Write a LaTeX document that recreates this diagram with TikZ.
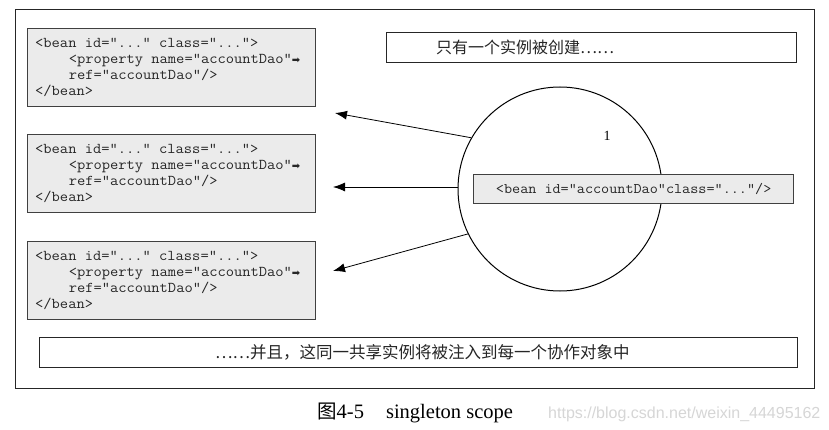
\documentclass[tikz,border=0pt]{standalone}
\usepackage{fontspec}
\setmainfont{Liberation Serif}
\newfontfamily\codefont{Latin Modern Mono}[FakeStretch=1.07]
\newfontfamily\cjk{Noto Sans CJK SC}
\newfontfamily\dejavu{DejaVu Sans}
\newfontfamily\wmfont{Liberation Sans}
\usetikzlibrary{arrows.meta}
\newcommand{\contarrow}{{\dejavu\fontsize{10}{10}\selectfont ➡}}
\newcommand{\codeindent}{\hspace*{33.6pt}}
\begin{document}
\begin{tikzpicture}[x=1pt,y=-1pt,
  codebox/.style={draw=black!75, line width=1.3pt, fill=black!8, rectangle, inner sep=0pt,
    minimum width=288pt, minimum height=78pt, anchor=north west},
  codetext/.style={anchor=west, align=left, inner sep=0pt, text=black!85,
    font=\codefont\fontsize{15}{16}\selectfont},
  txtbox/.style={draw=black!85, line width=1.3pt, rectangle, inner sep=0pt, anchor=north west},
  cjktext/.style={anchor=west, inner sep=0pt, font=\cjk\fontsize{16.5}{18}\selectfont, text=black!85},
  ptr/.style={line width=0.8pt, -{Latex[length=12pt,width=9pt]}}
]
\useasboundingbox (0,0) rectangle (829,430);
\fill[white] (0,0) rectangle (829,430);

% outer frame
\node[draw=black!85, line width=1.4pt, rectangle, inner sep=0pt, anchor=north west,
  minimum width=799pt, minimum height=379pt] (frame) at (15,9) {};

% code boxes
\node[codebox] (b1) at (27,28) {};
\node[codetext] (t1) at (35,67) {<bean id="..." class="...">\\
\codeindent<property name="accountDao"\contarrow\\
\codeindent ref="accountDao"/>\\
</bean>};

\node[codebox] (b2) at (27,134) {};
\node[codetext] (t2) at (35,173) {<bean id="..." class="...">\\
\codeindent<property name="accountDao"\contarrow\\
\codeindent ref="accountDao"/>\\
</bean>};

\node[codebox] (b3) at (27,241) {};
\node[codetext] (t3) at (35,280) {<bean id="..." class="...">\\
\codeindent<property name="accountDao"\contarrow\\
\codeindent ref="accountDao"/>\\
</bean>};

% top text box
\node[txtbox, minimum width=410pt, minimum height=30pt] (top) at (386,32) {};
\node[cjktext, font=\cjk\fontsize{16}{18}\selectfont] (toptext) at (436,47) {只有一个实例被创建……};

% circle
\node[draw=black, line width=1pt, circle, minimum size=204pt, inner sep=0pt] (c) at (560,189) {};
\node[font=\fontsize{14}{16}\selectfont, inner sep=0pt] (one) at (607,136) {1};

% singleton bean box
\node[draw=black!75, line width=1.3pt, fill=black!8, rectangle, inner sep=0pt,
  minimum width=320pt, minimum height=29pt, anchor=north west, text=black!85,
  font=\codefont\fontsize{14.7}{16}\selectfont] (single) at (473,174) {<bean id="accountDao"class="..."/>};

% arrows
\coordinate (a1) at (335,113);
\coordinate (a2) at (333,187);
\coordinate (a3) at (333,271);
\draw[ptr] (c.150) -- (a1);
\draw[ptr] (c.west |- a2) -- (a2);
\draw[ptr] (c.206) -- (a3);

% bottom text box
\node[txtbox, minimum width=758pt, minimum height=30pt] (bottom) at (39,337) {};
\node[cjktext] (bottomtext) at (215,352) {……并且，这同一共享实例将被注入到每一个协作对象中};

% caption
\node[anchor=base west, inner sep=0pt, font=\fontsize{20.5}{22}\selectfont] (cap) at (317,418)
  {{\cjk\fontsize{19.5}{22}\selectfont 图}4-5\hspace*{22pt}singleton scope};
\node[anchor=base west, inner sep=0pt, font=\wmfont\fontsize{16}{18}\selectfont, text=black!16] (wm)
  at (548,418) {https://blog.csdn.net/weixin\_44495162};
\end{tikzpicture}
\end{document}
